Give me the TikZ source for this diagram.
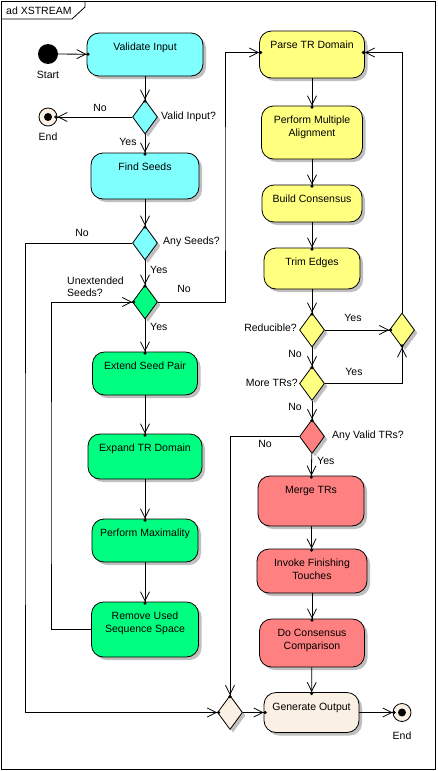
\documentclass[tikz,border=0pt]{standalone}
\usepackage{fontspec}
\setmainfont{Liberation Sans}
\usetikzlibrary{shapes.geometric,arrows.meta,shadows}
\definecolor{ccyan}{RGB}{128,255,255}
\definecolor{cyellow}{RGB}{255,255,128}
\definecolor{cgreen}{RGB}{0,255,128}
\definecolor{cred}{RGB}{255,128,128}
\definecolor{ccream}{RGB}{250,240,228}
\begin{document}
\begin{tikzpicture}[x=1pt,y=-1pt,
  every node/.style={font=\fontsize{10.5}{12.5}\selectfont},
  shad/.style={drop shadow={shadow xshift=3pt,shadow yshift=-3pt,fill=black!25,opacity=1}},
  act/.style={draw=black,line width=0.8pt,rectangle,rounded corners=12pt,inner sep=0pt,shad},
  boxtext/.style={anchor=north,yshift=-10.5pt,inner sep=0pt,align=center},
  dec/.style={draw=black,line width=0.8pt,diamond,inner sep=0pt,minimum width=25pt,minimum height=34pt,shad},
  arr/.style={draw=black,line width=0.8pt,-{Straight Barb[length=9pt,width=9pt,line width=0.8pt] Circle[length=3pt,sep=-3pt]}},
  lbl/.style={inner sep=0pt},
]
\useasboundingbox (0,0) rectangle (438,771);
% frame
\draw[line width=0.8pt] (1.5,1.5) rectangle (435.5,769.5);
\draw[line width=0.8pt] (1.5,19) -- (72,19) -- (85,7) -- (85,1.5);
\node[lbl,anchor=west] (title) at (6,11) {ad XSTREAM};

% left column
\node[circle,fill=black,minimum size=20pt,inner sep=0pt] (start) at (48,54) {};
\node[lbl] (startl) at (48,75) {Start};
\node[act,fill=ccyan,minimum width=116pt,minimum height=43pt,label={[boxtext]north:Validate Input}] (vi) at (145,54.5) {};
\node[dec,fill=ccyan] (d1) at (145,117) {};
\node[circle,draw=black,line width=0.8pt,fill=ccream,minimum size=18pt,inner sep=0pt,
  path picture={\fill[black] (path picture bounding box.center) circle (4pt);}] (end1) at (48,117) {};
\node[lbl] (end1l) at (48,137) {End};
\node[act,fill=ccyan,minimum width=108pt,minimum height=46pt,label={[boxtext]north:Find Seeds}] (fs) at (145,176) {};
\node[dec,fill=ccyan] (d2) at (145,243) {};
\node[dec,fill=cgreen] (d3) at (145,302) {};
\node[act,fill=cgreen,minimum width=105pt,minimum height=43pt,label={[boxtext]north:Extend Seed Pair}] (esp) at (145,373.5) {};
\node[act,fill=cgreen,minimum width=114pt,minimum height=45pt,label={[boxtext]north:Expand TR Domain}] (etd) at (145,456.5) {};
\node[act,fill=cgreen,minimum width=106pt,minimum height=43pt,label={[boxtext]north:Perform Maximality}] (pm) at (145,540.5) {};
\node[act,fill=cgreen,minimum width=107pt,minimum height=55pt,label={[boxtext]north:Remove Used\\Sequence Space}] (rus) at (145,629.5) {};

% right column
\node[act,fill=cyellow,minimum width=105pt,minimum height=47pt,label={[boxtext]north:Parse TR Domain}] (ptd) at (312,54.5) {};
\node[act,fill=cyellow,minimum width=101pt,minimum height=53pt,label={[boxtext]north:Perform Multiple\\Alignment}] (pma) at (312,132.5) {};
\node[act,fill=cyellow,minimum width=100pt,minimum height=37pt,label={[boxtext]north:Build Consensus}] (bc) at (312,203.5) {};
\node[act,fill=cyellow,minimum width=96pt,minimum height=41pt,label={[boxtext]north:Trim Edges}] (te) at (312,268.5) {};
\node[dec,fill=cyellow] (d4) at (312,330) {};
\node[dec,fill=cyellow] (d5) at (402,330) {};
\node[dec,fill=cyellow] (d6) at (312,383.5) {};
\node[dec,fill=cred] (d7) at (312,436.5) {};
\node[act,fill=cred,minimum width=106pt,minimum height=50pt,label={[boxtext]north:Merge TRs}] (mtr) at (311,501) {};
\node[act,fill=cred,minimum width=110pt,minimum height=44pt,label={[boxtext]north:Invoke Finishing\\Touches}] (ift) at (312,571) {};
\node[act,fill=cred,minimum width=105pt,minimum height=48pt,label={[boxtext]north:Do Consensus\\Comparison}] (dcc) at (312,643) {};
\node[act,fill=ccream,minimum width=95pt,minimum height=40pt,label={[boxtext]north:Generate Output}] (go) at (311.5,712.5) {};
\node[dec,fill=ccream] (d8) at (230,712.5) {};
\node[circle,draw=black,line width=0.8pt,fill=ccream,minimum size=18pt,inner sep=0pt,
  path picture={\fill[black] (path picture bounding box.center) circle (4pt);}] (end2) at (402,712.5) {};
\node[lbl] (end2l) at (402,736) {End};

% helper coordinates
\coordinate (c1) at (25,500);
\coordinate (c2) at (51,500);
\coordinate (c3) at (225,200);

% connectors
\draw[arr] (start) -- (vi);
\draw[arr] (vi) -- (d1);
\draw[arr] (d1) -- (end1);
\draw[arr] (d1) -- (fs);
\draw[arr] (fs) -- (d2);
\draw[arr] (d2) -- (d3);
\draw[arr] (d2.west) -| (c1) |- (d8.west);
\draw[arr] (d3) -- (esp);
\draw[arr] (esp) -- (etd);
\draw[arr] (etd) -- (pm);
\draw[arr] (pm) -- (rus);
\draw[arr] (rus.west) -| (c2) |- (d3.west);
\draw[arr] (d3.east) -| (c3) |- ([yshift=2pt]ptd.west);
\draw[arr] (ptd) -- (pma);
\draw[arr] (pma) -- (bc);
\draw[arr] (bc) -- (te);
\draw[arr] (te) -- (d4);
\draw[arr] (d4) -- (d5);
\draw[arr] (d4) -- (d6);
\draw[arr] (d6.east) -| (d5.south);
\draw[arr] (d5.north) |- ([yshift=2pt]ptd.east);
\draw[arr] (d6) -- (d7);
\draw[arr] (d7) -- (mtr);
\draw[arr] (d7.west) -| (d8.north);
\draw[arr] (mtr) -- (ift);
\draw[arr] (ift) -- (dcc);
\draw[arr] (dcc) -- (go);
\draw[arr] (d8) -- (go);
\draw[arr] (go) -- (end2);

% edge labels
\node[lbl] (l1) at (100,108) {No};
\node[lbl,anchor=west] (l2) at (161,117) {Valid Input?};
\node[lbl] (l3) at (128,142) {Yes};
\node[lbl] (l4) at (82,233) {No};
\node[lbl,anchor=west] (l5) at (163,242) {Any Seeds?};
\node[lbl,anchor=west] (l6) at (150,270) {Yes};
\node[lbl,anchor=west,align=left] (l7) at (67,286.5) {Unextended\\Seeds?};
\node[lbl] (l8) at (184,289) {No};
\node[lbl,anchor=west] (l9) at (150,327) {Yes};
\node[lbl,anchor=east] (l10) at (297,328) {Reducible?};
\node[lbl] (l11) at (353,318) {Yes};
\node[lbl] (l12) at (295,354) {No};
\node[lbl,anchor=east] (l13) at (298,383) {More TRs?};
\node[lbl] (l14) at (354,372) {Yes};
\node[lbl] (l15) at (295,407) {No};
\node[lbl,anchor=west] (l16) at (332,436) {Any Valid TRs?};
\node[lbl] (l17) at (265,444) {No};
\node[lbl,anchor=west] (l18) at (317,461) {Yes};
\end{tikzpicture}
\end{document}
